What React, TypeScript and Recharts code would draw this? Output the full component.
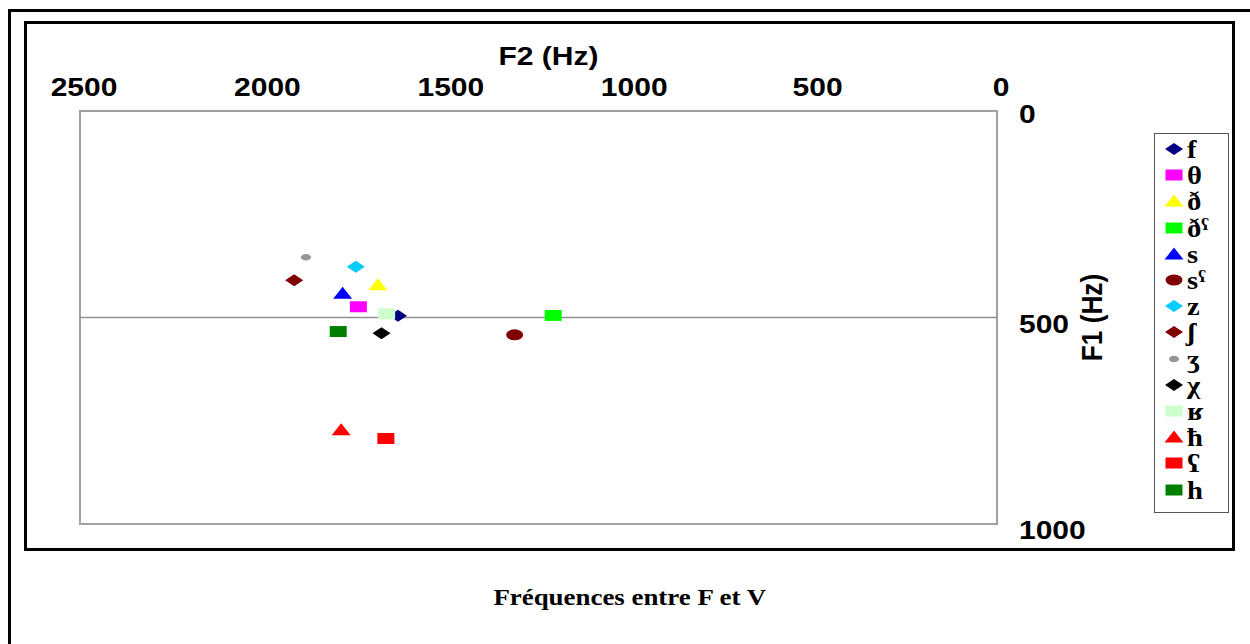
import React from "react"
import { ScatterChart, Scatter, XAxis, YAxis, ReferenceLine, ReferenceArea } from "recharts"

// consonant symbols, in legend order
const SYMBOLS = ["f", "θ", "ð", "ðˤ", "s", "sˤ", "z", "ʃ", "ʒ", "χ", "ʁ", "ħ", "ʕ", "h"]
// F2 (Hz) and F1 (Hz)
const F2 = [1633, 1741, 1688, 1210, 1784, 1315, 1748, 1916, 1884, 1678, 1664, 1788, 1666, 1796]
const F1 = [496, 474, 421, 495, 441, 542, 377, 410, 354, 538, 491, 772, 793, 534]
const X_TICKS = [2500, 2000, 1500, 1000, 500, 0]
const Y_TICKS = [0, 500, 1000]

// marker styles
const COLORS = ["#000080", "#FF00FF", "#FFFF00", "#00FF00", "#0000FF", "#800000", "#00CCFF", "#800000", "#969696", "#000000", "#CCFFCC", "#FF0000", "#FF0000", "#008000"]
const SHAPES = ["diamond", "square", "triangle", "square", "triangle", "circle", "diamond", "diamond", "dot", "diamond", "square", "triangle", "square", "square"]

const SANS = "'Liberation Sans', Arial, sans-serif"
const SERIF = "'Liberation Serif', 'DejaVu Serif', 'Times New Roman', serif"

function Marker({ kind, cx, cy, fill }: { kind: string; cx: number; cy: number; fill: string }) {
  switch (kind) {
    case "diamond":
      return <polygon points={`${cx - 9},${cy} ${cx},${cy - 6} ${cx + 9},${cy} ${cx},${cy + 6}`} fill={fill} />
    case "square":
      return <rect x={cx - 8.5} y={cy - 5.5} width={17} height={11} fill={fill} />
    case "triangle":
      return <polygon points={`${cx - 9.5},${cy + 5.5} ${cx},${cy - 6.5} ${cx + 9.5},${cy + 5.5}`} fill={fill} />
    case "circle":
      return <ellipse cx={cx} cy={cy} rx={8.5} ry={5.5} fill={fill} />
    default:
      return <ellipse cx={cx} cy={cy} rx={5} ry={3.2} fill={fill} />
  }
}

const XTick = (props: any) => {
  const { x, y, payload } = props
  return (
    <text transform={`translate(${x + 4},${y - 7}) scale(1.2,1)`} textAnchor="middle" fontFamily={SANS} fontWeight="bold" fontSize={25} fill="#000">
      {payload.value}
    </text>
  )
}

const YTick = (props: any) => {
  const { x, y, payload } = props
  const shift = payload.value === 0 ? 12 : 15
  return (
    <text transform={`translate(${x + 14},${y + shift}) scale(1.2,1)`} textAnchor="start" fontFamily={SANS} fontWeight="bold" fontSize={25} fill="#000">
      {payload.value}
    </text>
  )
}

const XTitle = (props: any) => {
  const { viewBox } = props
  const cx = viewBox.x + viewBox.width / 2 + 10
  return (
    <text transform={`translate(${cx},${viewBox.y + 14}) scale(1.2,1)`} textAnchor="middle" fontFamily={SANS} fontWeight="bold" fontSize={25} fill="#000">
      F2 (Hz)
    </text>
  )
}

const YTitle = (props: any) => {
  const { viewBox } = props
  const cy = viewBox.y + viewBox.height / 2
  return (
    <text transform={`translate(${viewBox.x + 105},${cy}) rotate(-90) scale(1.05,1.2)`} textAnchor="middle" fontFamily={SANS} fontWeight="bold" fontSize={25} fill="#000">
      F1 (Hz)
    </text>
  )
}

export default function App() {
  const series = SYMBOLS.map((s, i) => ({ name: s, data: [{ f2: F2[i], f1: F1[i] }], color: COLORS[i], shape: SHAPES[i] }))

  return (
    <div style={{ position: "relative", width: 1250, height: 644, overflow: "hidden", background: "#fff" }}>
      <style>{`body{margin:0}`}</style>
      {/* outer frame */}
      <div style={{ position: "absolute", left: 8, top: 9, width: 1400, height: 800, border: "3px solid #000" }} />
      {/* chart frame */}
      <div style={{ position: "absolute", left: 24, top: 21, width: 1205, height: 524, border: "3px solid #000" }} />

      <div style={{ position: "absolute", left: 0, top: 0 }}>
        <ScatterChart width={1250} height={560} margin={{ top: 51, right: 153, bottom: 36, left: 80 }}>
          <XAxis
            type="number"
            dataKey="f2"
            orientation="top"
            reversed
            domain={[0, 2500]}
            ticks={X_TICKS}
            height={60}
            axisLine={false}
            tickLine={false}
            tick={<XTick />}
            label={<XTitle />}
          />
          <YAxis
            type="number"
            dataKey="f1"
            orientation="right"
            reversed
            domain={[0, 1000]}
            ticks={Y_TICKS}
            width={100}
            axisLine={false}
            tickLine={false}
            tick={<YTick />}
            label={<YTitle />}
          />
          <ReferenceArea x1={2500} x2={0} y1={0} y2={1000} fill="none" stroke="#a0a0a0" strokeWidth={2} ifOverflow="visible" />
          <ReferenceLine y={500} stroke="#909090" strokeWidth={1.5} />
          {series.map((s) => (
            <Scatter
              key={s.name}
              name={s.name}
              data={s.data}
              isAnimationActive={false}
              shape={(p: any) => <Marker kind={s.shape} cx={p.cx} cy={p.cy} fill={s.color} />}
            />
          ))}
        </ScatterChart>
      </div>

      {/* legend */}
      <div style={{ position: "absolute", left: 1154, top: 133, width: 73, height: 378, border: "1.5px solid #555" }}>
        {series.map((s, i) => (
          <div key={s.name} style={{ position: "absolute", left: 0, top: 2 + i * 26.2, height: 26, width: 73 }}>
            <svg width={30} height={26} style={{ position: "absolute", left: 4, top: 0 }}>
              <Marker kind={s.shape} cx={15} cy={13} fill={s.color} />
            </svg>
            <span
              style={{
                position: "absolute",
                left: 32,
                top: 1,
                fontFamily: SERIF,
                fontWeight: "bold",
                fontSize: 26,
                lineHeight: "26px",
                transform: "scaleX(1.1)",
                transformOrigin: "left center",
                whiteSpace: "nowrap",
              }}
            >
              {s.name}
            </span>
          </div>
        ))}
      </div>

      {/* caption */}
      <div
        style={{
          position: "absolute",
          left: 0,
          width: 1260,
          top: 584,
          textAlign: "center",
          fontFamily: SERIF,
          fontWeight: "bold",
          fontSize: 24,
          lineHeight: "27px",
        }}
      >
        <span style={{ display: "inline-block", transform: "scaleX(1.12)" }}>Fréquences entre F et V</span>
      </div>
    </div>
  )
}
